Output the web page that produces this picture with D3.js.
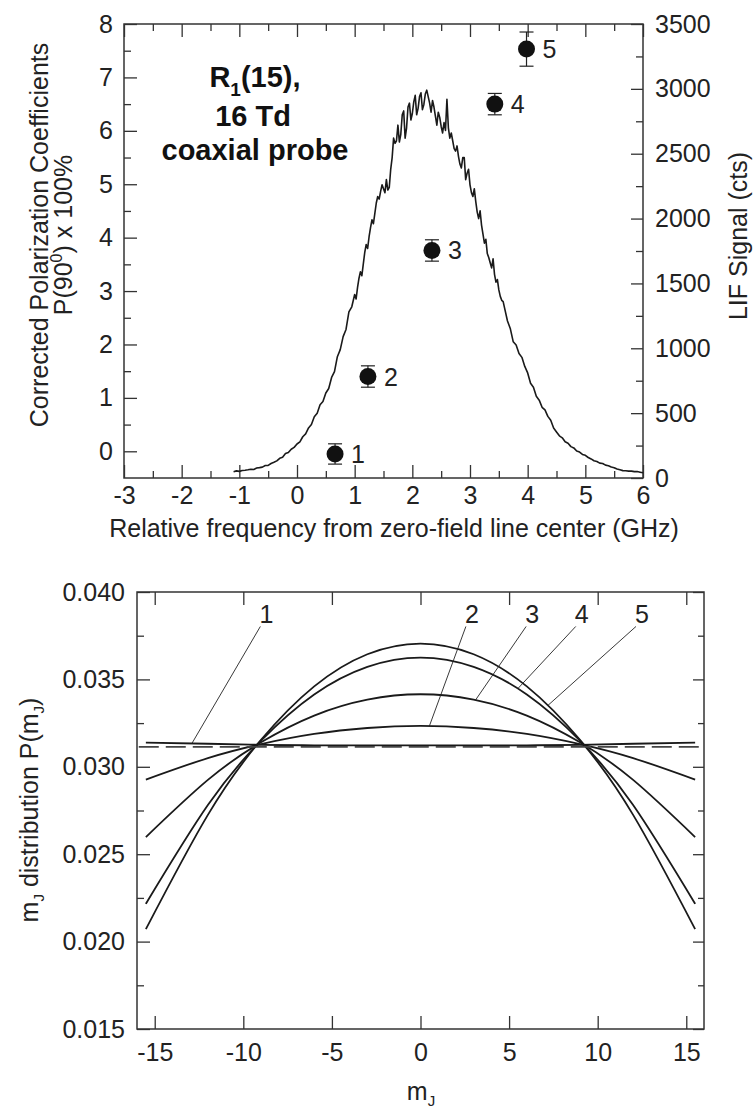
<!DOCTYPE html>
<html>
<head>
<meta charset="utf-8">
<script src="https://cdn.jsdelivr.net/npm/d3@7"></script>
<style>
    body { margin: 0; background: #fff; }
    svg { display: block; font-family: "Liberation Sans", Arial, sans-serif; }
    .frame { fill: none; stroke: #333; stroke-width: 1.5; }
    .axis path { display: none; }
    .axis line { stroke: #333; stroke-width: 1.3; }
    .axis text { font-size: 25px; fill: #222; }
    .title { font-size: 25px; fill: #222; }
</style>
</head>
<body>
<svg id="chart" width="754" height="1113"></svg>
<script>
// ---- top panel: polarization points + LIF scan ----
const freqTicks = [-3, -2, -1, 0, 1, 2, 3, 4, 5, 6];
const freqMinor = [-2.5, -1.5, -0.5, 0.5, 1.5, 2.5, 3.5, 4.5, 5.5];
const polTicks = [0, 1, 2, 3, 4, 5, 6, 7, 8];
const polMinor = [0.5, 1.5, 2.5, 3.5, 4.5, 5.5, 6.5, 7.5];
const lifTicks = [0, 500, 1000, 1500, 2000, 2500, 3000, 3500];
const lifMinor = [250, 750, 1250, 1750, 2250, 2750, 3250];

const pointLabels = ["1", "2", "3", "4", "5"];
const pointGHz = [0.66, 1.23, 2.34, 3.43, 3.98];
const pointPol = [-0.05, 1.40, 3.76, 6.50, 7.53];
const pointErr = [0.19, 0.20, 0.20, 0.20, 0.32];

// [GHz, counts]
const lifSignal = [
    [-1.10,48],[-1.05,55],[-1.00,51],[-0.95,58],[-0.90,60],[-0.85,63],[-0.80,68],[-0.75,66],
    [-0.70,77],[-0.65,80],[-0.60,84],[-0.55,96],[-0.50,97],[-0.45,112],[-0.40,121],[-0.35,132],
    [-0.30,152],[-0.25,160],[-0.20,188],[-0.15,196],[-0.10,222],[-0.05,236],[0.00,262],[0.05,278],
    [0.10,318],[0.15,340],[0.20,386],[0.25,412],[0.30,472],[0.35,500],[0.40,565],[0.45,590],
    [0.50,655],[0.55,690],[0.60,775],[0.65,820],[0.70,935],[0.75,990],[0.80,1090],[0.85,1145],
    [0.90,1280],[0.95,1320],[1.00,1415],[1.025,1380],[1.05,1470],[1.075,1540],[1.10,1590],[1.125,1560],
    [1.15,1650],[1.175,1740],[1.20,1800],[1.225,1770],[1.25,1860],[1.275,1930],[1.30,1990],[1.325,1960],
    [1.35,2040],[1.375,2120],[1.40,2170],[1.425,2150],[1.45,2210],[1.475,2260],[1.50,2230],[1.525,2200],
    [1.55,2300],[1.575,2220],[1.60,2240],[1.625,2380],[1.65,2470],[1.675,2620],[1.70,2580],[1.725,2600],
    [1.75,2720],[1.775,2590],[1.80,2650],[1.825,2800],[1.85,2830],[1.875,2620],[1.90,2700],[1.925,2860],
    [1.95,2890],[1.975,2760],[2.00,2810],[2.025,2900],[2.05,2950],[2.075,2800],[2.10,2850],[2.125,2940],
    [2.15,2970],[2.175,2840],[2.20,2880],[2.225,2960],[2.25,2990],[2.275,2940],[2.30,2890],[2.325,2820],
    [2.35,2910],[2.375,2860],[2.40,2790],[2.425,2720],[2.45,2820],[2.475,2780],[2.50,2710],[2.525,2660],
    [2.55,2740],[2.575,2680],[2.60,2920],[2.625,2700],[2.65,2620],[2.675,2660],[2.70,2600],[2.725,2540],
    [2.75,2520],[2.775,2560],[2.80,2480],[2.825,2420],[2.85,2390],[2.875,2470],[2.90,2470],[2.925,2300],
    [2.95,2350],[2.975,2380],[3.00,2260],[3.025,2200],[3.05,2170],[3.075,2230],[3.10,2130],[3.125,2050],
    [3.15,2000],[3.175,2060],[3.20,1950],[3.225,1880],[3.25,1810],[3.275,1840],[3.30,1730],[3.325,1700],
    [3.35,1660],[3.375,1620],[3.40,1690],[3.425,1570],[3.45,1510],[3.475,1530],[3.50,1450],[3.525,1400],
    [3.55,1370],[3.575,1360],[3.60,1310],[3.65,1210],
    [3.70,1150],[3.75,1050],[3.80,1025],[3.85,960],[3.90,930],[3.95,860],[4.00,810],[4.05,730],
    [4.10,700],[4.15,630],[4.20,600],[4.25,545],[4.30,525],[4.35,475],[4.40,445],[4.45,385],
    [4.50,355],[4.55,325],[4.60,310],[4.65,280],[4.70,268],[4.75,242],[4.80,232],[4.85,208],
    [4.90,200],[4.95,182],[5.00,175],[5.05,158],[5.10,147],[5.15,133],[5.20,127],[5.25,115],
    [5.30,112],[5.35,99],[5.40,95],[5.45,85],[5.50,79],[5.55,69],[5.60,63],[5.65,57],
    [5.70,56],[5.75,53],[5.80,53],[5.85,49],[5.90,50],[5.95,45],[6.00,40]
];

// ---- bottom panel: m_J distributions ----
const mjTicks = [-15, -10, -5, 0, 5, 10, 15];
const probTicks = [0.015, 0.020, 0.025, 0.030, 0.035, 0.040];
const probMinor = [0.0175, 0.0225, 0.0275, 0.0325, 0.0375];

const mjValues = [-15.5, -12, -9, -6, -3, 0, 3, 6, 9, 12, 15.5];
const dist1 = [0.03138, 0.03132, 0.03126, 0.03123, 0.03122, 0.03122, 0.03122, 0.03123, 0.03126, 0.03132, 0.03138];
const dist2 = [0.02927, 0.03050, 0.03130, 0.03188, 0.03222, 0.03234, 0.03222, 0.03188, 0.03130, 0.03050, 0.02927];
const dist3 = [0.02598, 0.02925, 0.03140, 0.03293, 0.03384, 0.03415, 0.03384, 0.03293, 0.03140, 0.02925, 0.02598];
const dist4 = [0.02216, 0.02781, 0.03150, 0.03414, 0.03572, 0.03625, 0.03572, 0.03414, 0.03150, 0.02781, 0.02216];
const dist5 = [0.02071, 0.02725, 0.03154, 0.03460, 0.03644, 0.03705, 0.03644, 0.03460, 0.03154, 0.02725, 0.02071];
const isoMj = [-15.9, 16];
const isoProb = [0.03114, 0.03114];

const calloutLabels = ["1", "2", "3", "4", "5"];
const calloutTextMj = [-8.7, 2.9, 6.3, 9.1, 12.5];
const calloutTextProb = [0.0382, 0.0382, 0.0382, 0.0382, 0.0382];
const calloutTipMj = [-12.9, 0.5, 3.1, 5.5, 7.2];
const calloutTipProb = [0.03134, 0.03233, 0.03381, 0.03448, 0.03352];

const svg = d3.select("#chart");
const plain = d => String(d);   // hyphen minus, no thousands comma

function drawAxis(g, axis, transform) {
    g.append("g").attr("class", "axis").attr("transform", transform).call(axis);
}

// ================= TOP PANEL =================
const x1 = d3.scaleLinear().domain([-3, 6]).range([124, 643]);
const y1 = d3.scaleLinear().domain([-0.5, 8]).range([478, 24]);
const y1r = d3.scaleLinear().domain([0, 3500]).range([478, 24]);
const topPanel = svg.append("g");

drawAxis(topPanel, d3.axisBottom(x1).tickValues(freqTicks).tickFormat(plain).tickSizeInner(-13).tickSizeOuter(0).tickPadding(8), "translate(0,478)");
drawAxis(topPanel, d3.axisBottom(x1).tickValues(freqMinor).tickSizeInner(-7).tickSizeOuter(0).tickFormat(""), "translate(0,478)");
drawAxis(topPanel, d3.axisTop(x1).tickValues(freqTicks).tickSizeInner(-13).tickSizeOuter(0).tickFormat(""), "translate(0,24)");
drawAxis(topPanel, d3.axisTop(x1).tickValues(freqMinor).tickSizeInner(-7).tickSizeOuter(0).tickFormat(""), "translate(0,24)");
drawAxis(topPanel, d3.axisLeft(y1).tickValues(polTicks).tickFormat(plain).tickSizeInner(-13).tickSizeOuter(0).tickPadding(11), "translate(124,0)");
drawAxis(topPanel, d3.axisLeft(y1).tickValues(polMinor).tickSizeInner(-7).tickSizeOuter(0).tickFormat(""), "translate(124,0)");
drawAxis(topPanel, d3.axisRight(y1r).tickValues(lifTicks).tickFormat(plain).tickSizeInner(-12).tickSizeOuter(0).tickPadding(12), "translate(643,0)");
drawAxis(topPanel, d3.axisRight(y1r).tickValues(lifMinor).tickSizeInner(-7).tickSizeOuter(0).tickFormat(""), "translate(643,0)");

topPanel.append("rect").attr("class", "frame")
    .attr("x", x1(-3)).attr("y", y1(8))
    .attr("width", x1(6) - x1(-3)).attr("height", y1(-0.5) - y1(8));

// LIF scan
topPanel.append("path")
    .datum(lifSignal)
    .attr("fill", "none")
    .attr("stroke", "#1a1a1a")
    .attr("stroke-width", 1.6)
    .attr("stroke-linejoin", "round")
    .attr("d", d3.line().x(d => x1(d[0])).y(d => y1r(d[1])));

// polarization points with error bars
const pts = topPanel.selectAll(".pt")
    .data(pointLabels.map((l, i) => ({ label: l, x: pointGHz[i], y: pointPol[i], e: pointErr[i] })))
    .join("g").attr("class", "pt");
pts.append("line")
    .attr("x1", d => x1(d.x)).attr("x2", d => x1(d.x))
    .attr("y1", d => y1(d.y - d.e)).attr("y2", d => y1(d.y + d.e))
    .attr("stroke", "#222").attr("stroke-width", 1.2);
[-1, 1].forEach(s => {
    pts.append("line")
        .attr("x1", d => x1(d.x) - 7).attr("x2", d => x1(d.x) + 7)
        .attr("y1", d => y1(d.y + s * d.e)).attr("y2", d => y1(d.y + s * d.e))
        .attr("stroke", "#222").attr("stroke-width", 1.2);
});
pts.append("circle")
    .attr("cx", d => x1(d.x)).attr("cy", d => y1(d.y))
    .attr("r", 8.5).attr("fill", "#111");
pts.append("text")
    .attr("class", "title")
    .attr("x", d => x1(d.x) + 16).attr("y", d => y1(d.y) + 9)
    .text(d => d.label);

// annotation
const ann = topPanel.append("g").attr("font-weight", "bold").attr("font-size", 29)
    .attr("fill", "#111").attr("text-anchor", "middle");
const r1 = ann.append("text").attr("x", 255).attr("y", 87);
r1.append("tspan").text("R");
r1.append("tspan").attr("font-size", 19).attr("dy", 9).text("1");
r1.append("tspan").attr("dy", -9).text("(15),");
ann.append("text").attr("x", 253).attr("y", 126).text("16 Td");
ann.append("text").attr("x", 255).attr("y", 160).text("coaxial probe");

// axis titles
topPanel.append("text").attr("class", "title").attr("text-anchor", "middle")
    .attr("x", 394).attr("y", 537)
    .text("Relative frequency from zero-field line center (GHz)");
topPanel.append("text").attr("class", "title").attr("text-anchor", "middle")
    .attr("transform", "translate(48,235) rotate(-90)")
    .text("Corrected Polarization Coefficients");
const pl = topPanel.append("text").attr("class", "title").attr("text-anchor", "middle")
    .attr("transform", "translate(72,235) rotate(-90)");
pl.append("tspan").text("P(90");
pl.append("tspan").attr("font-size", 16).attr("dy", -10).text("0");
pl.append("tspan").attr("dy", 10).text(") x 100%");
topPanel.append("text").attr("class", "title").attr("text-anchor", "middle")
    .attr("transform", "translate(747,236) rotate(-90)")
    .text("LIF Signal (cts)");

// ================= BOTTOM PANEL =================
const x2 = d3.scaleLinear().domain([-16, 16]).range([137, 704]);
const y2 = d3.scaleLinear().domain([0.015, 0.040]).range([1029, 592]);
const botPanel = svg.append("g");

drawAxis(botPanel, d3.axisBottom(x2).tickValues(mjTicks).tickFormat(plain).tickSizeInner(-13).tickSizeOuter(0).tickPadding(14), "translate(0,1029)");
drawAxis(botPanel, d3.axisTop(x2).tickValues(mjTicks).tickSizeInner(-13).tickSizeOuter(0).tickFormat(""), "translate(0,592)");
drawAxis(botPanel, d3.axisLeft(y2).tickValues(probTicks).tickSizeInner(-13).tickSizeOuter(0).tickPadding(12).tickFormat(d3.format(".3f")), "translate(137,0)");
drawAxis(botPanel, d3.axisLeft(y2).tickValues(probMinor).tickSizeInner(-7).tickSizeOuter(0).tickFormat(""), "translate(137,0)");
drawAxis(botPanel, d3.axisRight(y2).tickValues(probTicks).tickSizeInner(-11).tickSizeOuter(0).tickFormat(""), "translate(704,0)");
drawAxis(botPanel, d3.axisRight(y2).tickValues(probMinor).tickSizeInner(-6).tickSizeOuter(0).tickFormat(""), "translate(704,0)");

botPanel.append("rect").attr("class", "frame")
    .attr("x", x2(-16)).attr("y", y2(0.040))
    .attr("width", x2(16) - x2(-16)).attr("height", y2(0.015) - y2(0.040));

const distLine = d3.line().x(d => x2(d[0])).y(d => y2(d[1])).curve(d3.curveNatural);
[dist1, dist2, dist3, dist4, dist5].forEach(series => {
    botPanel.append("path")
        .datum(mjValues.map((m, i) => [m, series[i]]))
        .attr("fill", "none").attr("stroke", "#1a1a1a").attr("stroke-width", 1.8)
        .attr("d", distLine);
});
botPanel.append("path")
    .datum(isoMj.map((m, i) => [m, isoProb[i]]))
    .attr("fill", "none").attr("stroke", "#444").attr("stroke-width", 1.8)
    .attr("stroke-dasharray", "20,7")
    .attr("d", d3.line().x(d => x2(d[0])).y(d => y2(d[1])));

// callouts
calloutLabels.forEach((l, i) => {
    const tx = x2(calloutTextMj[i]), ty = y2(calloutTextProb[i]);
    botPanel.append("line")
        .attr("x1", tx - 6).attr("y1", ty + 3)
        .attr("x2", x2(calloutTipMj[i])).attr("y2", y2(calloutTipProb[i]))
        .attr("stroke", "#222").attr("stroke-width", 0.9);
    botPanel.append("text").attr("class", "title").attr("text-anchor", "middle")
        .attr("x", tx).attr("y", ty).text(l);
});

// axis titles
const bx = botPanel.append("text").attr("class", "title").attr("text-anchor", "middle")
    .attr("x", 421).attr("y", 1100);
bx.append("tspan").text("m");
bx.append("tspan").attr("font-size", 15).attr("dy", 6).text("J");

const by = botPanel.append("text").attr("class", "title").attr("text-anchor", "middle")
    .attr("transform", "translate(38,810) rotate(-90)");
by.append("tspan").text("m");
by.append("tspan").attr("font-size", 15).attr("dy", 6).text("J");
by.append("tspan").attr("dy", -6).text(" distribution P(m");
by.append("tspan").attr("font-size", 15).attr("dy", 6).text("J");
by.append("tspan").attr("dy", -6).text(")");
</script>
</body>
</html>
